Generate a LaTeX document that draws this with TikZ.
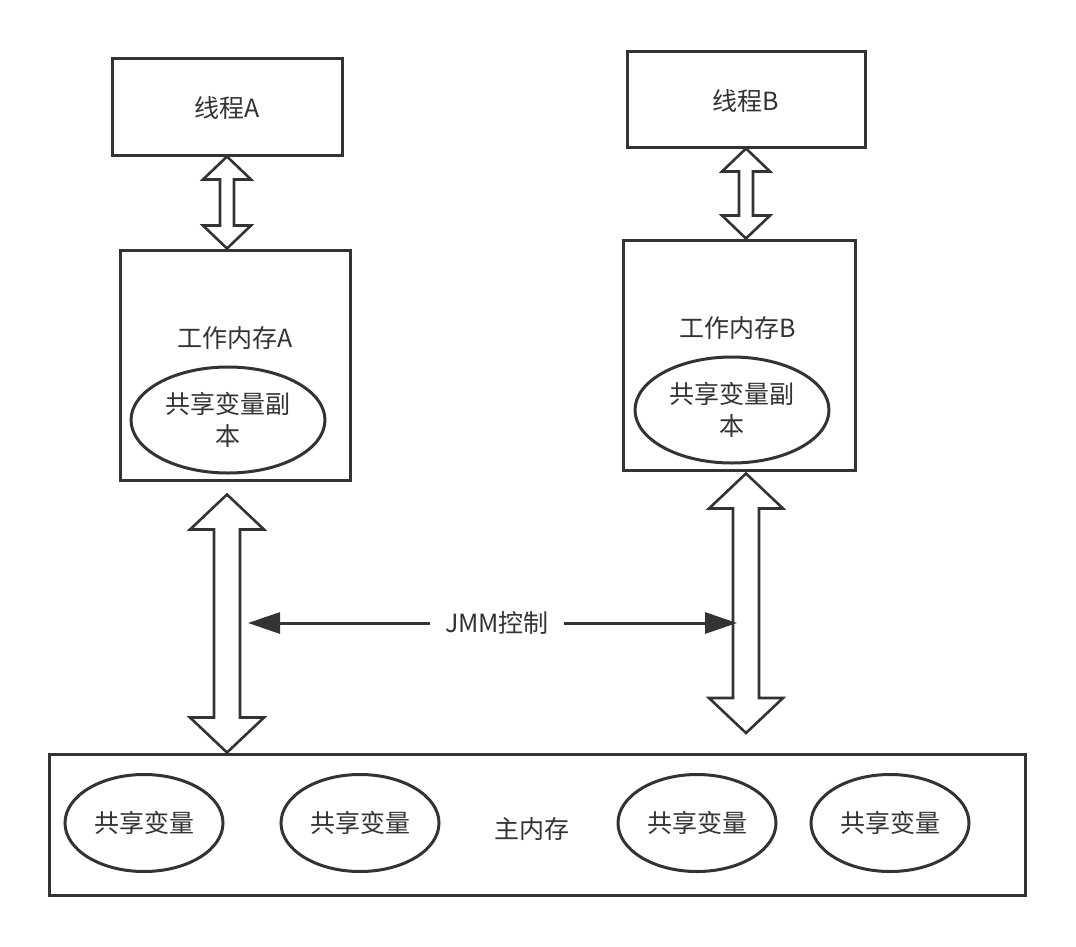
\documentclass[tikz,border=0pt]{standalone}
\usepackage{fontspec}
\setmainfont{Noto Sans CJK SC}
\usetikzlibrary{arrows.meta,calc,shapes.geometric}
\definecolor{ink}{HTML}{333333}
\tikzset{
  box/.style={draw=ink, line width=3pt, rectangle, inner sep=0pt},
  oval/.style={draw=ink, line width=3pt, ellipse, inner sep=0pt, text=ink, align=center,
               font=\fontsize{25}{32}\selectfont},
  lbl/.style={text=ink, inner sep=0pt, font=\fontsize{25}{32}\selectfont},
  dbl/.style={draw=ink, line width=2.6pt, fill=white, line join=miter},
  ctl/.style={draw=ink, line width=3pt, -{Triangle[length=32pt,width=21pt]}},
}
\newcommand{\dblarr}[5]{%
  \path[dbl] (#1) -- ($(#1)+(#4,#5)$) -- ($(#1)+(#3,#5)$) -- ($(#2)+(#3,-#5)$)
    -- ($(#2)+(#4,-#5)$) -- (#2) -- ($(#2)+(-#4,-#5)$) -- ($(#2)+(-#3,-#5)$)
    -- ($(#1)+(-#3,#5)$) -- ($(#1)+(-#4,#5)$) -- cycle;}
\begin{document}
\begin{tikzpicture}[x=1pt,y=-1pt]
\useasboundingbox[fill=white] (0,0) rectangle (1076,946);
% threads
\node[box, minimum width=230pt, minimum height=97pt] (thA) at (227,106.5) {};
\node[lbl] (thAl) at (227,108) {线程A};
\node[box, minimum width=238pt, minimum height=96pt] (thB) at (746,99) {};
\node[lbl] (thBl) at (746,101) {线程B};
% working memories
\node[box, minimum width=230pt, minimum height=230pt] (wmA) at (235,365) {};
\node[lbl] (wmAl) at (235,338) {工作内存A};
\node[oval, minimum width=194pt, minimum height=106pt] (elA) at (228,420) {共享变量副\\本};
\node[box, minimum width=232pt, minimum height=230pt] (wmB) at (739,355) {};
\node[lbl] (wmBl) at (738,328) {工作内存B};
\node[oval, minimum width=194pt, minimum height=106pt] (elB) at (732,410) {共享变量副\\本};
% main memory
\node[box, minimum width=976pt, minimum height=141pt] (main) at (537,824.5) {};
\node[lbl] (mainl) at (532,829) {主内存};
\node[oval, minimum width=158pt, minimum height=97pt] (v1) at (144,823) {共享变量};
\node[oval, minimum width=158pt, minimum height=97pt] (v2) at (360,823) {共享变量};
\node[oval, minimum width=158pt, minimum height=97pt] (v3) at (697,823) {共享变量};
\node[oval, minimum width=158pt, minimum height=97pt] (v4) at (890,823) {共享变量};
% double arrows
\coordinate (aT) at ($(thA.south |- wmA.south)+(0,13)$);
\coordinate (aB) at (thA.south |- main.north);
\coordinate (bT) at ($(thB.south |- wmB.south)+(0,2)$);
\coordinate (bB) at (746,733);
\coordinate (sAT) at (thA.south);
\coordinate (sAB) at (thA.south |- wmA.north);
\coordinate (sBT) at (thB.south);
\coordinate (sBB) at (thB.south |- wmB.north);
\dblarr{sAT}{sAB}{7}{24}{23}
\dblarr{sBT}{sBB}{7}{24}{23}
\dblarr{aT}{aB}{13}{37}{35}
\dblarr{bT}{bB}{13}{37}{35}
% JMM control
\node[lbl, inner xsep=15pt] (jmm) at (497,623) {JMM控制};
\coordinate (jL) at (248,623);
\coordinate (jR) at (737,623);
\draw[ctl] (jmm.west) -- (jL);
\draw[ctl] (jmm.east) -- (jR);
\end{tikzpicture}
\end{document}
